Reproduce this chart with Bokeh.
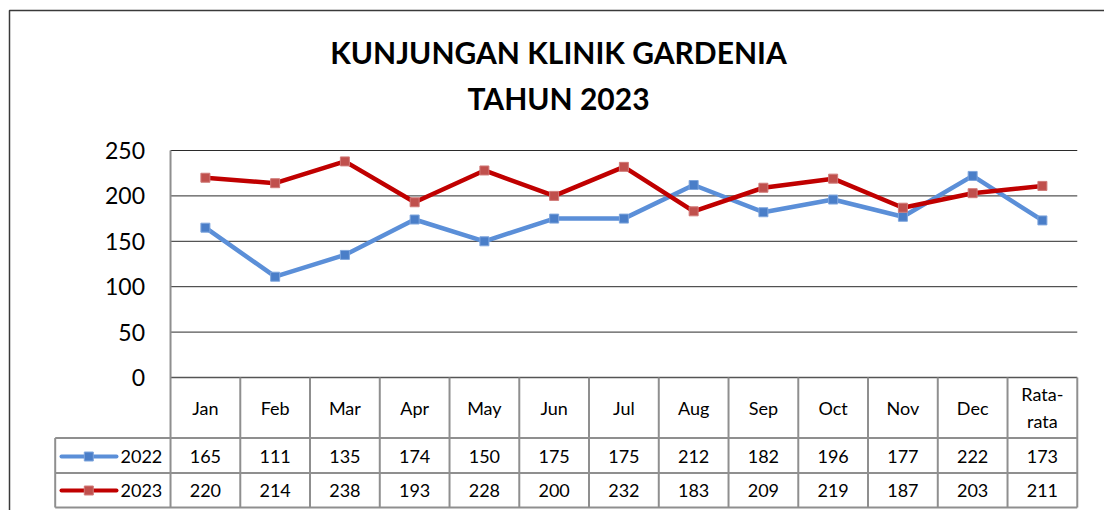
from bokeh.plotting import figure
from bokeh.models import Range1d
from bokeh.embed import file_html
from bokeh.resources import INLINE
from bokeh.core.properties import value

categories = ["Jan", "Feb", "Mar", "Apr", "May", "Jun", "Jul", "Aug", "Sep", "Oct", "Nov", "Dec", "Rata-\nrata"]
v2022 = [165, 111, 135, 174, 150, 175, 175, 212, 182, 196, 177, 222, 173]
v2023 = [220, 214, 238, 193, 228, 200, 232, 183, 209, 219, 187, 203, 211]
yticks = [0, 50, 100, 150, 200, 250]
series_names = ["2022", "2023"]
title_lines = ["KUNJUNGAN KLINIK GARDENIA", "TAHUN 2023"]

W, H = 1104, 510
COLW = 69.75
X0PX = 204.9          # pixel of first category centre
Y0PX = 377.0          # pixel of value 0
YPP = 250.0 / 227.0   # data units per pixel

def X(px):
    return (px - X0PX) / COLW

def Y(py):
    return (Y0PX - py) * YPP

FONT = value("Lato")
BLUE_LINE, BLUE_MK = "#5B8FD8", "#4A7EC8"
RED_LINE, RED_MK = "#C00000", "#C0504D"
GRID = "#2b2b2b"
TBL = "#8f8f8f"

p = figure(width=W, height=H, output_backend="svg", toolbar_location=None,
           x_range=Range1d(X(0), X(W)), y_range=Range1d(Y(H), Y(0)),
           min_border=0, outline_line_color=None)
p.axis.visible = False
p.grid.visible = False

n = len(categories)
xs = list(range(n))
left, right = -0.5, n - 0.5
row_hdr_bot, row1_bot, row2_bot = Y(437.5), Y(472.5), Y(507)
leg_left = X(54.7)

# outer chart border
p.line([X(9), X(9), X(1110)], [Y(515), Y(10), Y(10)], line_color="#3a3a3a", line_width=1.5)

# gridlines
p.segment(x0=[left] * (len(yticks) - 1), x1=[right] * (len(yticks) - 1),
          y0=yticks[1:], y1=yticks[1:], line_color=GRID, line_width=1)
p.segment(x0=[left], x1=[right], y0=[0], y1=[0], line_color="#555555", line_width=1.5)

# table lines
vx = [left + k for k in range(1, n + 1)]
p.segment(x0=vx, x1=vx, y0=[0] * n, y1=[row2_bot] * n, line_color=TBL, line_width=2)
p.segment(x0=[left], x1=[left], y0=[250], y1=[row2_bot], line_color=TBL, line_width=2)
p.segment(x0=[leg_left] * 3, x1=[right] * 3, y0=[row_hdr_bot, row1_bot, row2_bot],
          y1=[row_hdr_bot, row1_bot, row2_bot], line_color=TBL, line_width=2)
p.segment(x0=[leg_left], x1=[leg_left], y0=[row_hdr_bot], y1=[row2_bot], line_color=TBL, line_width=2)

# y tick labels
p.text(x=[X(144.5)] * len(yticks), y=yticks, text=[str(t) for t in yticks],
       text_font=FONT, text_font_size="23px", text_align="right", text_baseline="middle",
       text_color="#000000")

# title
p.text(x=[X(558)] * 2, y=[Y(51), Y(97.5)], text=title_lines, text_font=FONT,
       text_font_size="30px", text_font_style="bold", text_align="center",
       text_baseline="middle", text_color="#000000")

# series
p.line(xs, v2022, line_color=BLUE_LINE, line_width=4.5)
p.scatter(xs, v2022, marker="square", size=9, fill_color=BLUE_MK, line_color="#7FA6DD", line_width=1)
p.line(xs, v2023, line_color=RED_LINE, line_width=4.5)
p.scatter(xs, v2023, marker="square", size=9, fill_color=RED_MK, line_color="#D07A78", line_width=1)

# header row
p.text(x=xs, y=[Y(407)] * n, text=categories, text_font=FONT, text_font_size="18px",
       text_align="center", text_baseline="middle", text_color="#000000", text_line_height=1.2)

# data rows
r1, r2 = Y(456), Y(490)
p.text(x=xs, y=[r1] * n, text=[str(v) for v in v2022], text_font=FONT, text_font_size="18px",
       text_align="center", text_baseline="middle", text_color="#000000")
p.text(x=xs, y=[r2] * n, text=[str(v) for v in v2023], text_font=FONT, text_font_size="18px",
       text_align="center", text_baseline="middle", text_color="#000000")

# legend keys
lx0, lx1, lxm = X(61), X(116), X(88.3)
p.segment(x0=[lx0], x1=[lx1], y0=[r1], y1=[r1], line_color=BLUE_LINE, line_width=4, line_cap="round")
p.scatter([lxm], [r1], marker="square", size=9, fill_color=BLUE_MK, line_color="#7FA6DD")
p.segment(x0=[lx0], x1=[lx1], y0=[r2], y1=[r2], line_color=RED_LINE, line_width=4, line_cap="round")
p.scatter([lxm], [r2], marker="square", size=9, fill_color=RED_MK, line_color="#D07A78")
p.text(x=[X(120)] * 2, y=[r1, r2], text=series_names, text_font=FONT, text_font_size="18px",
       text_align="left", text_baseline="middle", text_color="#000000")

open("out.html", "w").write(file_html(p, INLINE))
